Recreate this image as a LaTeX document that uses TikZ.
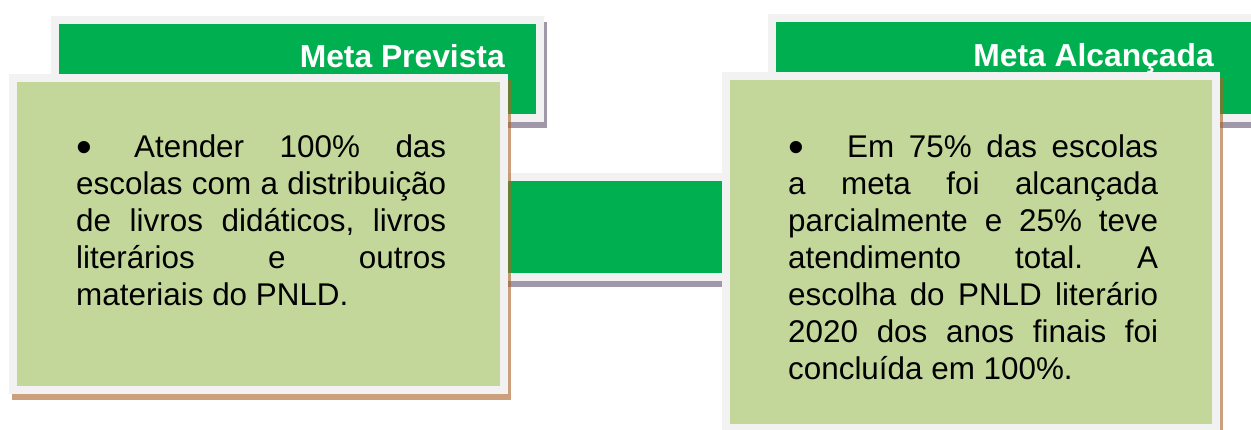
\documentclass[tikz,border=0pt]{standalone}
\usepackage{fontspec}
\setmainfont{Liberation Sans}
\usepackage{tikz}
\usetikzlibrary{shadows}
\definecolor{headgreen}{HTML}{00B050}
\definecolor{boxgreen}{HTML}{C4D79B}
\definecolor{framegrey}{HTML}{F2F2F2}
\definecolor{shadowtan}{RGB}{172,97,38}
\definecolor{shadowlilac}{RGB}{97,83,110}
\hbadness=10000
\newcommand{\bigbullet}{\raisebox{-5pt}{\fontsize{45pt}{45pt}\selectfont\textbullet}}

\begin{document}
\begin{tikzpicture}[x=1pt,y=-1pt,
  panel/.style={draw=framegrey,line width=8pt,inner sep=0pt,outer sep=0pt},
  headbox/.style={panel,fill=headgreen,drop shadow={shadow xshift=3pt,shadow yshift=-6pt,fill=none,draw=shadowlilac,line width=8pt,opacity=.6}},
  textbox/.style={panel,fill=boxgreen,drop shadow={shadow xshift=3pt,shadow yshift=-6pt,fill=none,draw=shadowtan,line width=8pt,opacity=.6}},
  headtitle/.style={inner sep=0pt,text=white,font=\fontsize{31.8pt}{38pt}\selectfont\bfseries},
  bodytext/.style={inner sep=0pt,text width=370pt,align=justify,font=\fontsize{31.4pt}{37pt}\selectfont\frenchspacing}]
\useasboundingbox (0,0) rectangle (1251,429);
% headers
\node[headbox,minimum width=485pt,minimum height=98pt] (prevHead) at (297.5,69) {};
\node[headbox,minimum width=485pt,minimum height=100pt] (alcHead) at (1014.5,68) {};
% bar between the panels
\node[headbox,minimum width=272pt,minimum height=100pt] (link) at (620,227) {};
% panels
\node[textbox,minimum width=491pt,minimum height=312pt] (prevBox) at (258.5,234) {};
\node[textbox,minimum width=490pt,minimum height=352pt] (alcBox) at (971,252) {};
% titles
\node[headtitle,anchor=base east] (prevTitle) at (505,67) {Meta Prevista};
\node[headtitle,anchor=base east] (alcTitle) at (1214,66) {Meta Alcançada};
% texts
\node[bodytext,anchor=base west] (prevText) at (76,157) {\makebox[58pt][l]{\bigbullet}Atender 100\% das\linebreak escolas com a distribuição\linebreak de livros didáticos, livros\linebreak literários e outros\linebreak materiais do PNLD.};
\node[bodytext,anchor=base west] (alcText) at (788,157) {\makebox[59pt][l]{\bigbullet}Em 75\% das escolas\linebreak a meta foi alcançada\linebreak parcialmente e 25\% teve\linebreak atendimento total. A\linebreak escolha do PNLD literário\linebreak 2020 dos anos finais foi\linebreak concluída em 100\%.};
\end{tikzpicture}
\end{document}
